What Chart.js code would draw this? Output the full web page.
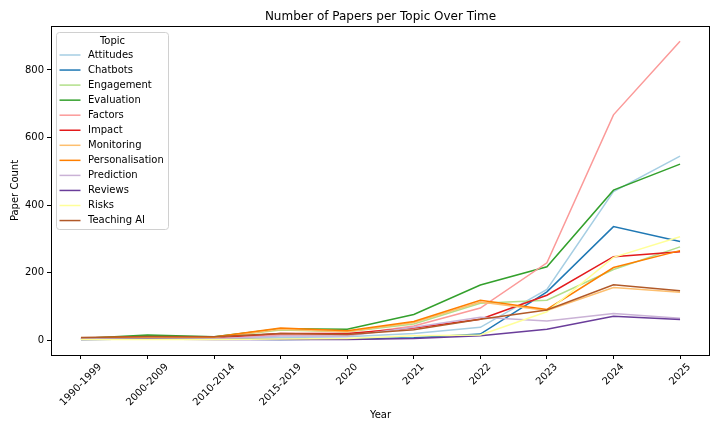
<!DOCTYPE html>
<html>
<head>
<meta charset="utf-8">
<script src="https://cdn.jsdelivr.net/npm/chart.js@4.4.1/dist/chart.umd.min.js"></script>
<style>
  html, body { margin: 0; padding: 0; background: #fff; }
  #wrap { width: 720px; height: 432px; }
</style>
</head>
<body>
<div id="wrap"><canvas id="chart" width="720" height="432"></canvas></div>
<script>
// data
const years = ['1990-1999', '2000-2009', '2010-2014', '2015-2019', '2020', '2021', '2022', '2023', '2024', '2025'];
const topics = ['Attitudes', 'Chatbots', 'Engagement', 'Evaluation', 'Factors', 'Impact',
                'Monitoring', 'Personalisation', 'Prediction', 'Reviews', 'Risks', 'Teaching AI'];
const attitudes       = [3, 5, 4, 8, 10, 20, 38, 150, 440, 545];
const chatbots        = [2, 3, 3, 2, 3, 7, 18, 143, 336, 292];
const engagement      = [4, 8, 8, 30, 25, 48, 109, 118, 209, 276];
const evaluation      = [5, 15, 10, 34, 32, 76, 163, 217, 444, 521];
const factors         = [4, 7, 6, 15, 15, 42, 95, 229, 667, 885];
const impact          = [4, 8, 7, 20, 20, 36, 62, 133, 247, 262];
const monitoring      = [5, 9, 8, 32, 25, 52, 113, 88, 156, 142];
const personalisation = [6, 10, 9, 36, 28, 55, 118, 91, 215, 265];
const prediction      = [3, 5, 4, 12, 12, 38, 68, 57, 79, 65];
const reviews         = [2, 3, 2, 2, 2, 5, 13, 32, 71, 61];
const risks           = [2, 2, 2, 3, 5, 13, 15, 84, 245, 306];
const teachingAI      = [8, 11, 10, 20, 17, 31, 62, 89, 164, 146];
const yTicks = [0, 200, 400, 600, 800];

const series = [attitudes, chatbots, engagement, evaluation, factors, impact,
                monitoring, personalisation, prediction, reviews, risks, teachingAI];
const colors = ['#a6cee3', '#1f78b4', '#b2df8a', '#33a02c', '#fb9a99', '#e31a1c',
                '#fdbf6f', '#ff7f00', '#cab2d6', '#6a3d9a', '#ffff99', '#b15928'];

const FONT = '"DejaVu Sans", sans-serif';

// frame, title, rotated x labels, axis label and legend, matplotlib style
const decor = {
    id: 'decor',
    afterDraw(chart) {
        const ctx = chart.ctx;
        const a = chart.chartArea;
        const xs = chart.scales.x;
        ctx.save();

        ctx.strokeStyle = '#000';
        ctx.lineWidth = 1;
        ctx.strokeRect(a.left + 0.5, a.top + 0.5, a.right - a.left - 1, a.bottom - a.top);

        ctx.fillStyle = '#000';
        ctx.font = '12px ' + FONT;
        ctx.textAlign = 'center';
        ctx.textBaseline = 'middle';
        ctx.fillText('Number of Papers per Topic Over Time', (a.left + a.right) / 2, 17);

        ctx.font = '10px ' + FONT;
        years.forEach((lab, i) => {
            const x = xs.getPixelForValue(i);
            const w = ctx.measureText(lab).width;
            const h = (w + 10) * Math.SQRT1_2;
            ctx.save();
            ctx.translate(x, a.bottom + 7 + h / 2);
            ctx.rotate(-Math.PI / 4);
            ctx.fillText(lab, 0, 0);
            ctx.restore();
        });
        ctx.fillText('Year', (a.left + a.right) / 2, 415);

        // legend
        const lx = 56.5, ly = 32.5, lw = 112, lh = 197;
        ctx.beginPath();
        ctx.roundRect(lx, ly, lw, lh, 3);
        ctx.fillStyle = 'rgba(255,255,255,0.8)';
        ctx.fill();
        ctx.strokeStyle = '#d0d0d0';
        ctx.lineWidth = 1;
        ctx.stroke();
        ctx.fillStyle = '#000';
        ctx.textAlign = 'center';
        ctx.fillText('Topic', lx + lw / 2, 41);
        ctx.textAlign = 'left';
        chart.data.datasets.forEach((ds, i) => {
            const y = 55 + i * 15.05;
            ctx.strokeStyle = ds.borderColor;
            ctx.lineWidth = 1.5;
            ctx.beginPath();
            ctx.moveTo(59.5, y);
            ctx.lineTo(80.5, y);
            ctx.stroke();
            ctx.fillStyle = '#000';
            ctx.fillText(ds.label, 88, y);
        });
        ctx.restore();
    }
};

new Chart(document.getElementById('chart'), {
    type: 'line',
    data: {
        datasets: topics.map((t, i) => ({
            label: t,
            data: series[i].map((v, j) => ({ x: j, y: v })),
            borderColor: colors[i],
            backgroundColor: colors[i],
            borderWidth: 1.5,
            pointRadius: 0,
            tension: 0,
            fill: false,
            order: topics.length - i
        }))
    },
    options: {
        responsive: false,
        animation: false,
        devicePixelRatio: 1,
        layout: { padding: { left: 0, top: 26, right: 10, bottom: 0 } },
        plugins: {
            legend: { display: false },
            title: { display: false },
            tooltip: { enabled: false }
        },
        scales: {
            x: {
                type: 'linear',
                min: -0.45,
                max: years.length - 1 + 0.45,
                afterBuildTicks: s => { s.ticks = years.map((_, i) => ({ value: i })); },
                afterFit: s => { s.height = 77; },
                grid: { drawOnChartArea: false, drawTicks: true, tickLength: 4, color: '#000' },
                border: { display: false },
                ticks: { color: 'rgba(0,0,0,0)', font: { size: 10, family: FONT },
                         minRotation: 0, maxRotation: 0, autoSkip: false,
                         callback: v => '' }
            },
            y: {
                min: -44,
                max: 930,
                afterBuildTicks: s => { s.ticks = yTicks.map(v => ({ value: v })); },
                afterFit: s => { s.width = 51; },
                grid: { drawOnChartArea: false, drawTicks: true, tickLength: 4, color: '#000' },
                border: { display: false },
                ticks: { color: '#000', padding: 3, font: { size: 10, family: FONT } },
                title: { display: true, text: 'Paper Count', color: '#000',
                         font: { size: 10, family: FONT }, padding: { top: 9, bottom: 0 } }
            }
        }
    },
    plugins: [decor]
});
</script>
</body>
</html>
